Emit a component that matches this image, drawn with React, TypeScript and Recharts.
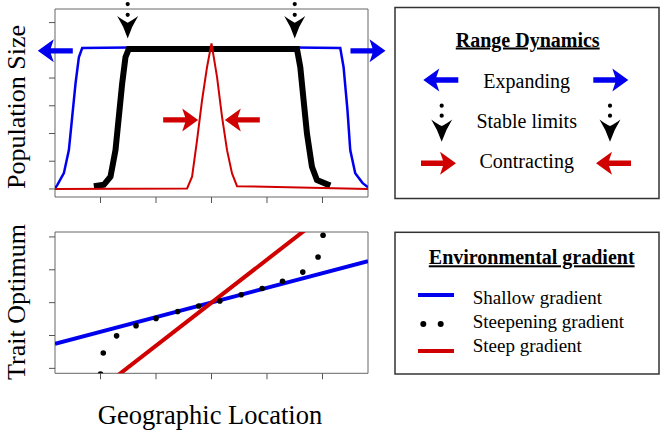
import React from 'react';
import { ComposedChart, Line, Scatter, XAxis, YAxis, ReferenceArea, ReferenceDot } from 'recharts';

// ---------- data ----------
const locationTicks = [-2, -1, 0, 1, 2];
const popTicks = [0, 1, 2, 3, 4, 5, 6];
const traitTicks = [-2, -1, 0, 1, 2];

// Population size (top panel)
const expandingX = [-2.82, -2.78, -2.66, -2.57, -2.51, -2.45, -2.39, -2.33, -1.5, 0, 1.5, 2.32, 2.38, 2.45, 2.5, 2.59, 2.72, 2.82];
const expandingY = [0.02, 0.14, 0.57, 1.4, 2.6, 3.81, 4.75, 5.08, 5.1, 5.1, 5.1, 5.08, 4.39, 2.84, 1.4, 0.57, 0.22, 0.06];

const stableX = [-2.12, -1.94, -1.82, -1.73, -1.67, -1.61, -1.55, -1.49, 0, 1.54, 1.6, 1.66, 1.72, 1.81, 1.9, 2.14];
const stableY = [0.1, 0.15, 0.44, 1.4, 2.6, 3.8, 4.75, 5.05, 5.05, 5.05, 4.39, 3.19, 2.0, 0.8, 0.32, 0.12];

const contractingX = [-2.82, -0.44, -0.35, -0.26, -0.17, -0.08, 0, 0.1, 0.19, 0.28, 0.37, 0.46, 2.82];
const contractingY = [0, 0.02, 0.44, 1.76, 3.2, 4.4, 5.25, 4.03, 2.6, 1.4, 0.56, 0.1, 0];

// Range-dynamics markers (data coordinates of arrow tips)
const expandArrowX = [-3.13, 3.135];
const expandArrowY = [4.98, 4.98];
const stableMarkX = [-1.51, 1.5];
const stableMarkY = [5.43, 5.43];
const contractArrowX = [-0.24, 0.24];
const contractArrowY = [2.49, 2.49];

// Trait optimum (bottom panel)
const shallowX = [-2.82, 2.82];
const shallowY = [-1.25, 1.26];
const steepX = [-2, 2];
const steepY = [-2.62, 2.62];
const steepeningX = [-2.0, -1.95, -1.71, -1.36, -1.0, -0.61, -0.23, 0.15, 0.535, 0.913, 1.28, 1.645, 1.92, 2.01];
const steepeningY = [-2.17, -1.53, -1.01, -0.7, -0.48, -0.27, -0.1, 0.05, 0.24, 0.43, 0.65, 0.93, 1.39, 2.05];

// ---------- styles ----------
const BLUE = '#0000EE';
const RED = '#D00000';
const FONT = "'Liberation Serif', 'Times New Roman', 'DejaVu Serif', serif";
const BOX = '#666';

const zip = (xs: number[], ys: number[]) => xs.map((x, i) => ({ x, y: ys[i] }));

const expandingData = zip(expandingX, expandingY);
const stableData = zip(stableX, stableY);
const contractingData = zip(contractingX, contractingY);
const shallowData = zip(shallowX, shallowY);
const steepData = zip(steepX, steepY);
const steepeningData = zip(steepeningX, steepeningY);

// ---------- shapes ----------
function arrowPoints(tx: number, ty: number, dir: number) {
  const L = 35, HL = 16, HH = 11.5, S = 2.7, N = 3;
  const p = [
    [0, 0],
    [-HL, -HH],
    [-HL + N, -S],
    [-L, -S],
    [-L, S],
    [-HL + N, S],
    [-HL, HH],
  ];
  return p.map(([dx, dy]) => `${tx + dir * dx},${ty + dy}`).join(' ');
}

function Arrow({ tx, ty, dir, color }: { tx: number; ty: number; dir: number; color: string }) {
  return <polygon points={arrowPoints(tx, ty, dir)} fill={color} />;
}

function Chevron({ tx, ty, d1 = 34.3, d2 = 23.6 }: { tx: number; ty: number; d1?: number; d2?: number }) {
  const path = `M ${tx - 10.5} ${ty - 22.3} Q ${tx - 4} ${ty - 17.5} ${tx} ${ty - 15.6} Q ${tx + 4} ${ty - 17.5} ${tx + 10.5} ${ty - 22.3} Q ${tx + 4} ${ty - 12} ${tx} ${ty} Q ${tx - 4} ${ty - 12} ${tx - 10.5} ${ty - 22.3} Z`;
  return (
    <g>
      <path d={path} fill="#000" />
      <circle cx={tx} cy={ty - d1} r={2.1} fill="#000" />
      <circle cx={tx} cy={ty - d2} r={2.1} fill="#000" />
    </g>
  );
}

const NoTick = () => <g />;

const axisCommon = {
  tick: NoTick,
  axisLine: false,
  tickLine: { stroke: '#555', strokeWidth: 1 },
  tickSize: 6,
  allowDataOverflow: true,
};

const textStyle = { fontFamily: FONT };

function Legends() {
  return (
    <g style={textStyle} fill="#000">
      <rect x={395} y={7.5} width={264} height={191} fill="#fff" stroke="#333" strokeWidth={1.5} />
      <text x={527.7} y={46.5} textAnchor="middle" fontSize={20} fontWeight="bold" style={{ ...textStyle, textDecoration: 'underline' }}>Range Dynamics</text>
      <Arrow tx={423.3} ty={80} dir={-1} color={BLUE} />
      <text x={526.7} y={87.5} textAnchor="middle" fontSize={20} style={textStyle}>Expanding</text>
      <Arrow tx={628.3} ty={80} dir={1} color={BLUE} />
      <Chevron tx={441.7} ty={141.7} d1={36} d2={26} />
      <text x={526.7} y={128} textAnchor="middle" fontSize={20} style={textStyle}>Stable limits</text>
      <Chevron tx={610} ty={141.7} d1={36} d2={26} />
      <Arrow tx={456} ty={163.3} dir={1} color={RED} />
      <text x={526.7} y={167.7} textAnchor="middle" fontSize={20} style={textStyle}>Contracting</text>
      <Arrow tx={596} ty={163.3} dir={-1} color={RED} />

      <rect x={395} y={232.3} width={264} height={141.7} fill="#fff" stroke="#333" strokeWidth={1.5} />
      <text x={531.7} y={264.3} textAnchor="middle" fontSize={20} fontWeight="bold" style={{ ...textStyle, textDecoration: 'underline' }}>Environmental gradient</text>
      <line x1={418} x2={454} y1={295} y2={295} stroke={BLUE} strokeWidth={4} />
      <text x={472.7} y={304} fontSize={19} style={textStyle}>Shallow gradient</text>
      <circle cx={423.3} cy={324} r={3} fill="#000" />
      <circle cx={440.7} cy={324} r={3} fill="#000" />
      <text x={472.7} y={328} fontSize={19} style={textStyle}>Steepening gradient</text>
      <line x1={418} x2={454} y1={351} y2={351} stroke={RED} strokeWidth={4} />
      <text x={472.7} y={352} fontSize={19} style={textStyle}>Steep gradient</text>

      <text transform="translate(24.5,107) rotate(-90)" textAnchor="middle" fontSize={26} style={textStyle}>Population Size</text>
      <text transform="translate(24.5,302) rotate(-90)" textAnchor="middle" fontSize={26} style={textStyle}>Trait Optimum</text>
      <text x={210} y={424} textAnchor="middle" fontSize={26.5} style={textStyle}>Geographic Location</text>
    </g>
  );
}

export default function App() {
  return (
    <div style={{ position: 'absolute', left: 0, top: 0, width: 661, height: 433, background: '#fff', overflow: 'hidden' }}>
      <div style={{ position: 'absolute', left: 0, top: 0 }}>
        <ComposedChart width={661} height={215} margin={{ top: 9, right: 293, bottom: 17, left: 54 }}>
          <XAxis dataKey="x" type="number" domain={[-2.82, 2.82]} ticks={locationTicks} height={1} {...axisCommon} />
          <YAxis type="number" domain={[-0.29, 6.49]} ticks={popTicks} width={1} {...axisCommon} />
          <ReferenceArea x1={-2.82} x2={2.82} y1={-0.29} y2={6.49} fill="none" fillOpacity={0} stroke={BOX} strokeWidth={1} ifOverflow="visible" />
          <Line data={expandingData} dataKey="y" stroke={BLUE} strokeWidth={2.5} dot={false} isAnimationActive={false} type="linear" />
          <Line data={stableData} dataKey="y" stroke="#000" strokeWidth={6} dot={false} isAnimationActive={false} type="linear" />
          <Line data={contractingData} dataKey="y" stroke={RED} strokeWidth={2} dot={false} isAnimationActive={false} type="linear" />
          {expandArrowX.map((x, i) => (
            <ReferenceDot key={'e' + i} x={x} y={expandArrowY[i]} ifOverflow="visible"
              shape={(p: any) => <Arrow tx={p.cx} ty={p.cy} dir={x < 0 ? -1 : 1} color={BLUE} />} />
          ))}
          {stableMarkX.map((x, i) => (
            <ReferenceDot key={'s' + i} x={x} y={stableMarkY[i]} ifOverflow="visible"
              shape={(p: any) => <Chevron tx={p.cx} ty={p.cy} />} />
          ))}
          {contractArrowX.map((x, i) => (
            <ReferenceDot key={'c' + i} x={x} y={contractArrowY[i]} ifOverflow="visible"
              shape={(p: any) => <Arrow tx={p.cx} ty={p.cy} dir={x < 0 ? 1 : -1} color={RED} />} />
          ))}
        </ComposedChart>
      </div>
      <div style={{ position: 'absolute', left: 0, top: 220 }}>
        <ComposedChart width={661} height={213} margin={{ top: 12, right: 293, bottom: 58.7, left: 54 }}>
          <XAxis dataKey="x" type="number" domain={[-2.82, 2.82]} ticks={locationTicks} height={1} {...axisCommon} />
          <YAxis dataKey="y" type="number" domain={[-2.15, 2.15]} ticks={traitTicks} width={1} {...axisCommon} />
          <ReferenceArea x1={-2.82} x2={2.82} y1={-2.15} y2={2.15} fill="none" fillOpacity={0} stroke={BOX} strokeWidth={1} ifOverflow="visible" />
          <Line data={shallowData} dataKey="y" stroke={BLUE} strokeWidth={4} dot={false} isAnimationActive={false} type="linear" />
          <Line data={steepData} dataKey="y" stroke={RED} strokeWidth={4} dot={false} isAnimationActive={false} type="linear" />
          <Scatter data={steepeningData} dataKey="y" fill="#000" isAnimationActive={false}
            shape={(p: any) => <circle cx={p.cx} cy={p.cy} r={2.8} fill="#000" />} />
        </ComposedChart>
      </div>
      <svg width={661} height={433} style={{ position: 'absolute', left: 0, top: 0, pointerEvents: 'none' }}>
        <Legends />
      </svg>
    </div>
  );
}
